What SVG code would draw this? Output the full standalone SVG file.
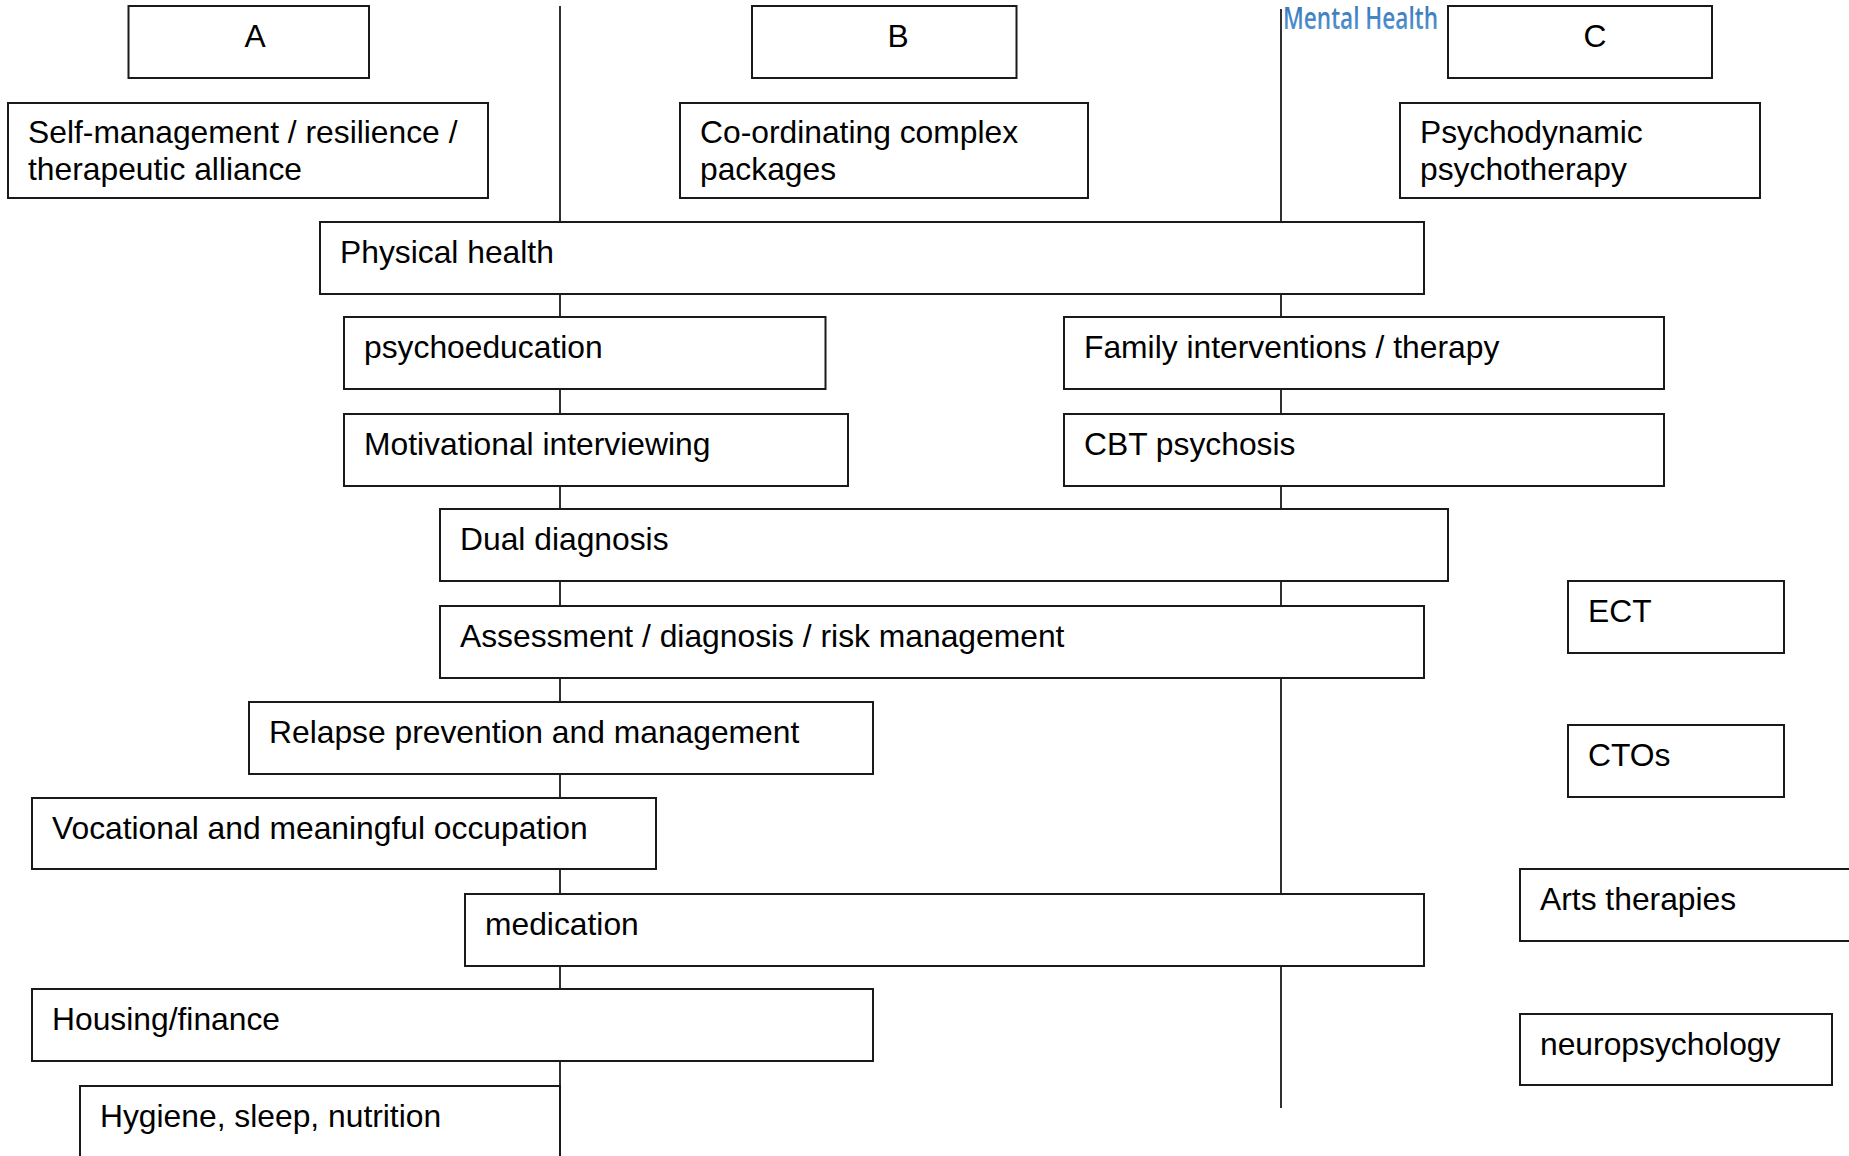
<svg xmlns="http://www.w3.org/2000/svg" width="1849" height="1156" viewBox="0 0 1849 1156">
<defs>
<linearGradient id="mh" x1="0" y1="0" x2="0" y2="1">
<stop offset="0" stop-color="#2f6fb3"/>
<stop offset="1" stop-color="#5b9bd5"/>
</linearGradient>
</defs>
<style>
.box{fill:#fff;stroke:#1a1a1a;stroke-width:2}
.t{font-family:"Liberation Sans",Arial,sans-serif;font-size:31.8px;fill:#000}
.c{text-anchor:middle}
.ln{stroke:#1a1a1a;stroke-width:1.8;fill:none}
</style>
<rect width="1849" height="1156" fill="#fff"/>
<text x="1283" y="29" font-family="'Open Sans','Liberation Sans',sans-serif" font-size="30" font-weight="600" fill="url(#mh)" textLength="155" lengthAdjust="spacingAndGlyphs">Mental Health</text>
<g id="connectors">
<line class="ln" x1="560" y1="6" x2="560" y2="1156"/>
<line class="ln" x1="1281" y1="9" x2="1281" y2="1108"/>
</g>
<g id="nA"><rect class="box" x="128.5" y="6" width="240.5" height="72"/><text class="t c" x="255" y="47">A</text></g>
<g id="nB"><rect class="box" x="752" y="6" width="264.5" height="72"/><text class="t c" x="898" y="47">B</text></g>
<g id="nC"><rect class="box" x="1448" y="6" width="264" height="72"/><text class="t c" x="1595" y="47">C</text></g>
<g id="nSelf"><rect class="box" x="8" y="103" width="480" height="95"/><text class="t" x="28" y="143">Self-management / resilience /</text><text class="t" x="28" y="180">therapeutic alliance</text></g>
<g id="nCoord"><rect class="box" x="680" y="103" width="408" height="95"/><text class="t" x="700" y="143">Co-ordinating complex</text><text class="t" x="700" y="180">packages</text></g>
<g id="nPsychodyn"><rect class="box" x="1400" y="103" width="360" height="95"/><text class="t" x="1420" y="143">Psychodynamic</text><text class="t" x="1420" y="180">psychotherapy</text></g>
<g id="nPhys"><rect class="box" x="320" y="222" width="1104" height="72"/><text class="t" x="340" y="263">Physical health</text></g>
<g id="nPsychoed"><rect class="box" x="344" y="317" width="481.5" height="72"/><text class="t" x="364" y="358">psychoeducation</text></g>
<g id="nFamily"><rect class="box" x="1064" y="317" width="600" height="72"/><text class="t" x="1084" y="358">Family interventions / therapy</text></g>
<g id="nMotiv"><rect class="box" x="344" y="414" width="504" height="72"/><text class="t" x="364" y="455">Motivational interviewing</text></g>
<g id="nCBT"><rect class="box" x="1064" y="414" width="600" height="72"/><text class="t" x="1084" y="455">CBT psychosis</text></g>
<g id="nDual"><rect class="box" x="440" y="509" width="1008" height="72"/><text class="t" x="460" y="550">Dual diagnosis</text></g>
<g id="nAssess"><rect class="box" x="440" y="606" width="984" height="72"/><text class="t" x="460" y="647">Assessment / diagnosis / risk management</text></g>
<g id="nECT"><rect class="box" x="1568" y="581" width="216" height="72"/><text class="t" x="1588" y="622">ECT</text></g>
<g id="nRelapse"><rect class="box" x="249" y="702" width="624" height="72"/><text class="t" x="269" y="743">Relapse prevention and management</text></g>
<g id="nCTO"><rect class="box" x="1568" y="725" width="216" height="72"/><text class="t" x="1588" y="766">CTOs</text></g>
<g id="nVoc"><rect class="box" x="32" y="798" width="624" height="71"/><text class="t" x="52" y="839">Vocational and meaningful occupation</text></g>
<g id="nArts"><rect class="box" x="1520" y="869" width="340" height="72"/><text class="t" x="1540" y="910">Arts therapies</text></g>
<g id="nMed"><rect class="box" x="465" y="894" width="959" height="72"/><text class="t" x="485" y="935">medication</text></g>
<g id="nHousing"><rect class="box" x="32" y="989" width="841" height="72"/><text class="t" x="52" y="1030">Housing/finance</text></g>
<g id="nNeuro"><rect class="box" x="1520" y="1014" width="312" height="71"/><text class="t" x="1540" y="1055">neuropsychology</text></g>
<g id="nHygiene"><rect class="box" x="80" y="1086" width="480" height="90"/><text class="t" x="100" y="1127">Hygiene, sleep, nutrition</text></g>
</svg>
